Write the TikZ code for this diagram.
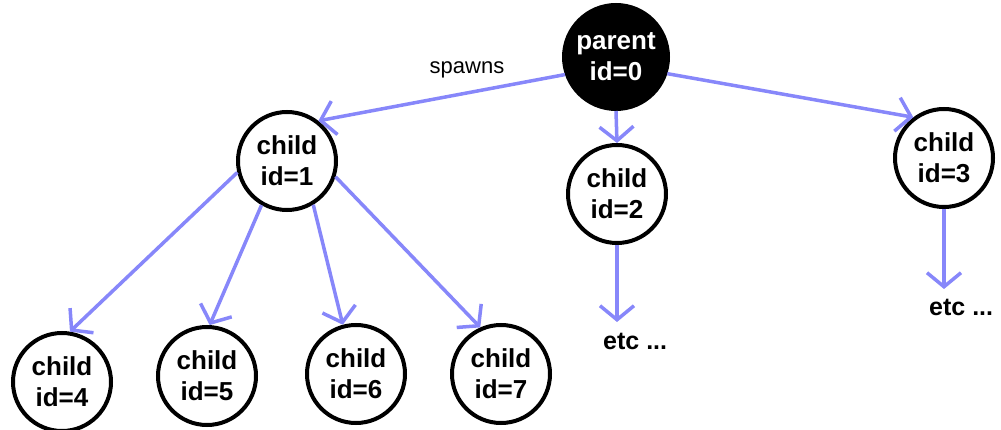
\documentclass[tikz,border=0pt]{standalone}
\usepackage{fontspec}
\setmainfont{Liberation Sans}
\usetikzlibrary{arrows.meta}
\definecolor{spawnblue}{RGB}{135,135,250}
\tikzset{x=1pt, y=-1pt,
proc/.style={ % every process is a round node
circle,
draw,
line width=4pt,
minimum size=98pt,
inner sep=0pt,
align=center,
font=\fontsize{26}{31}\selectfont\bfseries},
root/.style={ % the parent is filled black
proc,
fill=black,
text=white,
minimum size=104pt},
etc/.style={ % the trailing "etc ..." labels
anchor=west,
inner sep=0pt,
font=\fontsize{25}{28}\selectfont\bfseries},
spawn/.style={ % spawn arrows
draw=spawnblue,
line width=3.5pt,
-{Straight Barb[length=14pt,width=34pt,line width=3.5pt]}}}

\begin{document}
\begin{tikzpicture}
	\useasboundingbox (0,0) rectangle (1001,430);
	\node[root] (p) at (616,57) {parent\\id=0};
	\node[proc] (c1) at (287,161) {child\\id=1};
	\node[proc] (c2) at (617,194) {child\\id=2};
	\node[proc] (c3) at (944,158) {child\\id=3};
	\node[proc] (c4) at (62,382) {child\\id=4};
	\node[proc] (c5) at (207,376) {child\\id=5};
	\node[proc] (c6) at (356,374) {child\\id=6};
	\node[proc] (c7) at (501,374) {child\\id=7};
	\node[etc] (e2) at (603,341) {etc ...};
	\node[etc] (e3) at (929,307) {etc ...};
	\node[font=\fontsize{22}{26}\selectfont] (sp) at (467,70) {spawns};
	\coordinate (a2) at (617,322);
	\coordinate (a3) at (944,289);
	\draw[spawn] (p.199) -- (c1.52);
	\draw[spawn] (p.south) -- (c2.north);
	\draw[spawn] (p.-18) -- (c3.127);
	\draw[spawn] (c1.193) -- (c4.81);
	\draw[spawn] (c1.240) -- (c5.87);
	\draw[spawn] (c1.301) -- (c6.105);
	\draw[spawn] (c1.342) -- (c7.114);
	\draw[spawn] (c2.south) -- (a2);
	\draw[spawn] (c3.south) -- (a3);
\end{tikzpicture}
\end{document}
